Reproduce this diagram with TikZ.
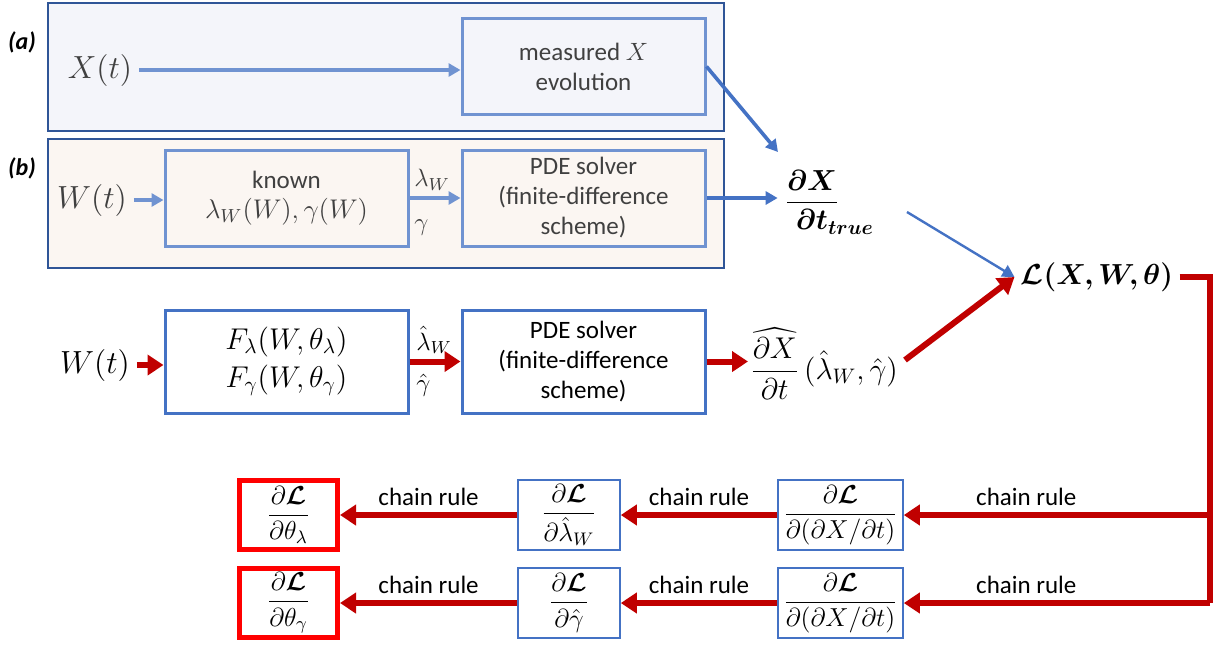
\RequirePackage{fix-cm}
\documentclass[tikz,border=0pt]{standalone}
\usepackage{amsmath, amssymb, mathtools, bm}
\usepackage{fontspec}
\setmainfont{Carlito}
\setsansfont{Carlito}
\usepackage{tikz}
\usetikzlibrary{
  positioning, arrows.meta, calc,
}
\definecolor{cBlue}      {HTML}{4472C4}
\definecolor{cBlueSoft}  {HTML}{7093D1}
\definecolor{cPanelEdge} {HTML}{2F5597}
\definecolor{cPanelA}    {HTML}{F4F5FA}
\definecolor{cPanelB}    {HTML}{FBF6F2}
\definecolor{cRed}       {HTML}{C00000}
\definecolor{cBright}    {HTML}{FF0000}
\definecolor{cGrey}      {HTML}{404040}

\newcommand{\fsBox}{\fontsize{12.5}{15}\selectfont}
\newcommand{\fsBig}{\fontsize{16}{19}\selectfont}
\newcommand{\fsMid}{\fontsize{14.5}{19}\selectfont}

\tikzset{
  panel/.style    = {draw=cPanelEdge, line width=0.6pt},
  tag/.style      = {font=\fontsize{12}{14}\selectfont\bfseries\itshape},
  softbox/.style  = {draw=cBlueSoft, line width=1.5pt, minimum width=121.5pt,
                     minimum height=48pt, align=center, text=cGrey, font=\fsBox},
  learnbox/.style = {draw=cBlue, line width=1.5pt, fill=white, minimum width=121.5pt,
                     minimum height=51.5pt, align=center, font=\fsBox},
  gradbox/.style  = {draw=cBlue, line width=0.8pt, fill=white, minimum height=35pt,
                     inner sep=1pt, font=\fontsize{13}{15}\selectfont},
  resbox/.style   = {draw=cBright, line width=2.5pt, fill=white, minimum width=49pt,
                     minimum height=34.5pt, inner sep=1pt, font=\fontsize{13}{15}\selectfont},
  softarrow/.style= {draw=cBlueSoft, line width=1.8pt, -{Triangle[length=6pt, width=6.5pt]}},
  bluearrow/.style= {draw=cBlue, line width=1.8pt, -{Triangle[length=6pt, width=6.5pt]}},
  redarrow/.style = {draw=cRed, line width=3pt, -{Triangle[length=8pt, width=10pt]}},
  redline/.style  = {draw=cRed, line width=3pt},
  rulelbl/.style  = {above, font=\fsBox, inner sep=3pt},
  sidelbl/.style  = {anchor=west, font=\fsBox, inner sep=0pt},
}

\begin{document}
\begin{tikzpicture}[x=0.5pt, y=-0.5pt]
\useasboundingbox (0,0) rectangle (1213,644);

% panels (a) and (b)
\draw[panel, fill=cPanelA] (48,3) rectangle (724,131);
\draw[panel, fill=cPanelB] (48,139) rectangle (724,268);
\node[tag] (tagA) at (22,42) {(a)};
\node[tag] (tagB) at (22,168) {(b)};

% (a) measured data
\node[font=\fsBig, text=cGrey] (xin) at (100,70) {$X(t)$};
\node[softbox] (measured) at (583.5,66.5) {measured $X$\\evolution};
\draw[softarrow] (xin.east) -- (xin.east -| measured.west);

% (b) known coefficients
\node[font=\fsBig, text=cGrey] (win) at (92,200) {$W(t)$};
\node[softbox] (known) at (286.5,198)
  {known\\{\fontsize{13.5}{16}\selectfont$\lambda_W(W),\gamma(W)$}};
\node[softbox] (pdeA) at (583.5,198) {PDE solver\\(finite-difference\\scheme)};
\draw[softarrow] (win.east) -- (win.east -| known.west);
\draw[softarrow] (known.east) -- (pdeA.west);
\node[sidelbl, text=cGrey] (lamA) at (414,180) {$\lambda_W$};
\node[sidelbl, text=cGrey] (gamA) at (414,228) {$\gamma$};

% target derivative
\node[font=\fsMid] (dxtrue) at (812,202)
  {$\dfrac{\bm{\partial X}}{\bm{\partial t}\mathrlap{_{\bm{true}}}}$};
\coordinate (truein) at (778,152);
\coordinate (trueout) at (907,212);
\draw[bluearrow] (measured.east) -- (truein);
\draw[bluearrow] (pdeA.east) -- (pdeA.east -| dxtrue.west);

% learned coefficients
\node[font=\fsBig] (wlearn) at (95,365) {$W(t)$};
\node[learnbox, font=\fontsize{15}{18}\selectfont] (learn) at (286.5,361.5)
  {$F_\lambda(W,\theta_\lambda)$\\[1pt]$F_\gamma(W,\theta_\gamma)$};
\node[learnbox] (pdeB) at (583.5,361.5) {PDE solver\\(finite-difference\\scheme)};
\draw[redarrow] (wlearn.east) -- (wlearn.east -| learn.west);
\draw[redarrow] (learn.east) -- (pdeB.west);
\node[sidelbl] (lamB) at (416,340) {$\hat{\lambda}_W$};
\node[sidelbl] (gamB) at (416,385) {$\hat{\gamma}$};
\node[font=\fontsize{15}{18}\selectfont, anchor=west, inner sep=1pt] (dxhat) at (748,364)
  {$\dfrac{\widehat{\partial X}}{\partial t}\,(\hat{\lambda}_W,\hat{\gamma})$};
\draw[redarrow] (pdeB.east) -- (pdeB.east -| dxhat.west);
\coordinate (hatout) at (905,360);

% loss
\node[font=\fontsize{14.5}{17}\selectfont, inner sep=3pt] (loss) at (1097,277)
  {$\bm{\mathcal{L}(X,W,\theta)}$};
\draw[bluearrow, line width=1.2pt] (trueout) -- (loss.west);
\draw[redarrow] (hatout) -- (loss.west);

% back-propagation rows
\node[gradbox, minimum width=62.5pt] (dxA) at (840.5,515)
  {$\dfrac{\partial\bm{\mathcal{L}}}{\partial(\partial X/\partial t)}$};
\node[gradbox, minimum width=51pt] (dlam) at (569,515)
  {$\dfrac{\partial\bm{\mathcal{L}}}{\partial\hat{\lambda}_W}$};
\node[resbox] (reslam) at (288.5,515)
  {$\dfrac{\partial\bm{\mathcal{L}}}{\partial\theta_\lambda}$};
\node[gradbox, minimum width=62.5pt] (dxB) at (840.5,603)
  {$\dfrac{\partial\bm{\mathcal{L}}}{\partial(\partial X/\partial t)}$};
\node[gradbox, minimum width=51pt] (dgam) at (569,603)
  {$\dfrac{\partial\bm{\mathcal{L}}}{\partial\hat{\gamma}}$};
\node[resbox] (resgam) at (288.5,603)
  {$\dfrac{\partial\bm{\mathcal{L}}}{\partial\theta_\gamma}$};

\coordinate (rail) at (1210,277);
\draw[redline] (loss.east) -- (rail) -- (rail |- dxB.east);
\draw[redarrow] (rail |- dxA.east) -- node[rulelbl, pos=0.6] {chain rule} (dxA.east);
\draw[redarrow] (dxA.west) -- node[rulelbl] {chain rule} (dlam.east);
\draw[redarrow] (dlam.west) -- node[rulelbl] {chain rule} (reslam.east);
\draw[redarrow] (rail |- dxB.east) -- node[rulelbl, pos=0.6] {chain rule} (dxB.east);
\draw[redarrow] (dxB.west) -- node[rulelbl] {chain rule} (dgam.east);
\draw[redarrow] (dgam.west) -- node[rulelbl] {chain rule} (resgam.east);
\end{tikzpicture}
\end{document}
